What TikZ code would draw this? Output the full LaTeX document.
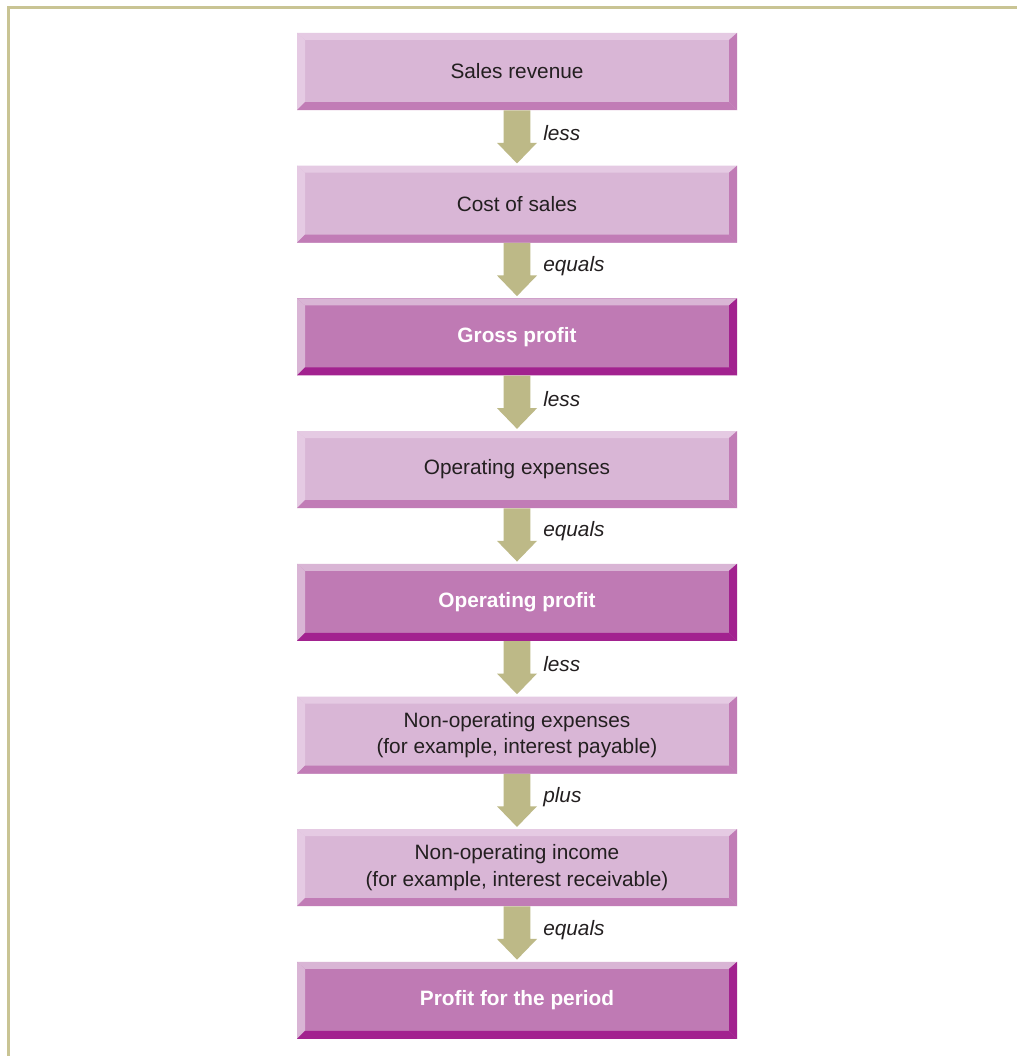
\documentclass[tikz,border=0pt]{standalone}
\usepackage{fontspec}
\setmainfont{Liberation Sans}
\usetikzlibrary{calc}

\definecolor{faceL}{HTML}{D9B6D6}
\definecolor{topL}{HTML}{E5CAE3}
\definecolor{shadeL}{HTML}{C17CB6}
\definecolor{faceD}{HTML}{BF7AB4}
\definecolor{topD}{HTML}{D9B5D5}
\definecolor{shadeD}{HTML}{A2228F}
\definecolor{arrowc}{HTML}{BDB987}
\definecolor{framec}{HTML}{C9C494}
\definecolor{txt}{HTML}{231F20}

\tikzset{
  % bevelled panel: #1 light edges (top, left), #2 shaded edges (bottom, right)
  bevel/.style 2 args={path picture={
    \path (path picture bounding box.north west) coordinate (bvA)
          (path picture bounding box.north east) coordinate (bvB)
          (path picture bounding box.south east) coordinate (bvC)
          (path picture bounding box.south west) coordinate (bvD);
    \fill[#1] (bvA) -- (bvB) -- ([shift={(-6pt,-5.25pt)}]bvB)
              -- ([shift={(6pt,-5.25pt)}]bvA) -- cycle;
    \fill[#1] (bvA) -- ([shift={(6pt,-5.25pt)}]bvA)
              -- ([shift={(6pt,6pt)}]bvD) -- (bvD) -- cycle;
    \fill[#2] (bvD) -- ([shift={(6pt,6pt)}]bvD)
              -- ([shift={(-6pt,6pt)}]bvC) -- (bvC) -- cycle;
    \fill[#2] (bvB) -- (bvC) -- ([shift={(-6pt,6pt)}]bvC)
              -- ([shift={(-6pt,-5.25pt)}]bvB) -- cycle;
  }},
  panel/.style={rectangle, minimum width=330pt, minimum height=57.75pt,
    inner sep=0pt, align=center},
  lightbox/.style={panel, fill=faceL, bevel={topL}{shadeL}, text=txt,
    font=\fontsize{15.6}{20}\selectfont},
  darkbox/.style={panel, fill=faceD, bevel={topD}{shadeD}, text=white,
    font=\fontsize{15.6}{20}\selectfont\bfseries},
  flow/.style={fill=arrowc},
  lbl/.style={anchor=west, inner sep=0pt, text=txt,
    font=\fontsize{15.6}{20}\selectfont\itshape},
}

\begin{document}
\begin{tikzpicture}[x=0.75pt, y=-0.75pt]
  \useasboundingbox (0,0) rectangle (1017,1056);
  \fill[white] (0,0) rectangle (1017,1056);

  % outer frame
  \draw[framec, line width=2.25pt] (8,1056) -- (8,8) -- (1017,8);

  % statement lines
  \node[lightbox] (sales)    at (517,71.5)  {Sales revenue};
  \node[lightbox] (cost)     at (517,204.2) {Cost of sales};
  \node[darkbox]  (gross)    at (517,336.9) {Gross profit};
  \node[lightbox] (opex)     at (517,469.6) {Operating expenses};
  \node[darkbox]  (opprofit) at (517,602.3) {Operating profit};
  \node[lightbox] (nonexp)   at (517,735)   {Non-operating expenses\\(for example, interest payable)};
  \node[lightbox] (noninc)   at (517,867.7) {Non-operating income\\(for example, interest receivable)};
  \node[darkbox]  (profit)   at (517,1000.4) {Profit for the period};

  % block arrows with their operation words
  \foreach \a/\b/\w in {sales/cost/less, cost/gross/equals, gross/opex/less,
      opex/opprofit/equals, opprofit/nonexp/less, nonexp/noninc/plus,
      noninc/profit/equals} {
    \fill[flow] ([xshift=-10pt]\a.south) -- ([xshift=10pt]\a.south)
      -- ([xshift=10pt,yshift=17pt]\b.north)
      -- ([xshift=15pt,yshift=17pt]\b.north)
      -- ([yshift=1.5pt]\b.north)
      -- ([xshift=-15pt,yshift=17pt]\b.north)
      -- ([xshift=-10pt,yshift=17pt]\b.north) -- cycle;
    \node[lbl] at ([xshift=19.5pt]$(\a.south)!0.42!(\b.north)$) {\w};
  }
\end{tikzpicture}
\end{document}
